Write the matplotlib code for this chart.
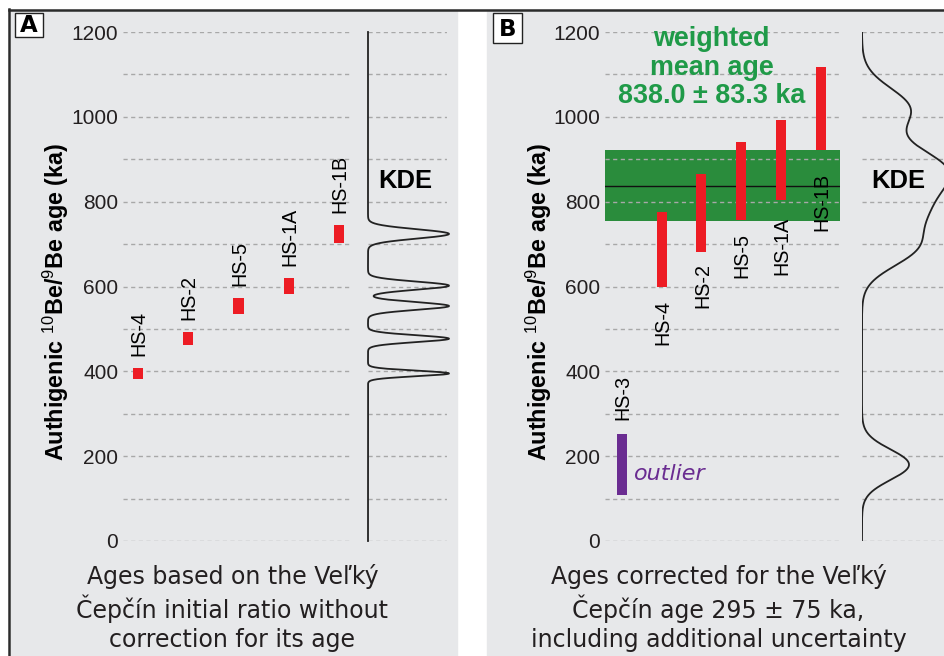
import numpy as np
import matplotlib.pyplot as plt
from matplotlib.patches import Rectangle
from matplotlib.lines import Line2D

plt.rcParams["font.family"] = ["Liberation Sans", "DejaVu Sans"]
plt.rcParams["mathtext.fontset"] = "custom"
plt.rcParams["mathtext.rm"] = "Liberation Sans"

# panel A - ages from the Velky Cepcin initial ratio (ka), bars are +/- err
samples_a = ["HS-4", "HS-2", "HS-5", "HS-1A", "HS-1B"]
age_a = [395, 477, 554, 602, 724]
err_a = [13, 16, 18, 19, 22]

# panel B - corrected ages (ka)
samples_b = ["HS-3", "HS-4", "HS-2", "HS-5", "HS-1A", "HS-1B"]
age_b = [180, 688, 773, 849, 898, 1019]
err_b = [72, 88, 92, 92, 94, 98]
outliers = ["HS-3"]

mean_age = 838.0
mean_err = 83.3

yticks = [0, 200, 400, 600, 800, 1000, 1200]

W, H = 945, 656
RED = "#ed1c24"
PURPLE = "#6a2c91"
GREEN_BAND = "#2a8c3c"
GREEN_TXT = "#1f9a48"
BG = "#e7e8ea"
GRID = "#a8a8a8"

# gap (px) between bar end and its sample label in panel B
gap_b = [14, 13, 11, 13, 17, 23]

fig = plt.figure(figsize=(W / 100, H / 100), dpi=100)
fig.patch.set_facecolor("white")


def px_axes(x0, x1, y0, y1):
    ax = fig.add_axes([x0 / W, 1 - y1 / H, (x1 - x0) / W, (y1 - y0) / H])
    ax.patch.set_alpha(0)
    for s in ax.spines.values():
        s.set_visible(False)
    ax.set_ylim(0, 1200)
    ax.set_yticks(yticks)
    ax.set_yticks(range(0, 1201, 100), minor=True)
    ax.tick_params(axis="both", which="both", length=0)
    ax.set_xticks([])
    ax.grid(axis="y", which="both", color=GRID, lw=1, ls=(0, (3, 2.5)))
    ax.set_axisbelow(True)
    return ax


def kde(values, errs, y):
    # sum of gaussians, bandwidth half of each uncertainty
    out = np.zeros_like(y)
    for v, e in zip(values, errs):
        out += np.exp(-0.5 * ((y - v) / (e / 2)) ** 2)
    return out


def fig_px(x, y):
    return x / W, 1 - y / H


# panel backgrounds and outer frame
for x0, x1 in [(11, 457), (487, 945)]:
    fig.patches.append(Rectangle(fig_px(x0, H), (x1 - x0) / W, (H - 11) / H,
                                 transform=fig.transFigure, color=BG, zorder=-5))
fig.add_artist(Line2D([9 / W, 1], [1 - 9.5 / H] * 2, transform=fig.transFigure,
                      color="#2b2b2b", lw=1.8))
fig.add_artist(Line2D([9.5 / W] * 2, [0, 1 - 9 / H], transform=fig.transFigure,
                      color="#2b2b2b", lw=1.8))

# panel letters
for letter, (x0, x1, y0, y1) in [("A", (15, 43, 13, 37)), ("B", (493, 522, 13, 43))]:
    fig.patches.append(Rectangle(fig_px(x0, y1), (x1 - x0) / W, (y1 - y0) / H,
                                 transform=fig.transFigure, facecolor="white",
                                 edgecolor="#222222", lw=1))
    fig.text(*fig_px((x0 + x1) / 2, (y0 + y1) / 2 + 1), letter, ha="center",
             va="center", fontsize=16.5, fontweight="heavy", family="DejaVu Sans")

ylab = r"Authigenic $^{\mathrm{10}}$Be/$^{\mathrm{9}}$Be age (ka)"
yy = np.linspace(0, 1200, 2401)

# ---------------- panel A ----------------
axa = px_axes(123, 352, 32, 541)
axa.set_xlim(-0.2985, 4.259)
axa.set_yticklabels([str(t) for t in yticks], fontsize=15, color="#231f20")
axa.tick_params(axis="y", pad=3.4)
xa = np.arange(len(samples_a))
lo_a = np.array(age_a) - np.array(err_a)
axa.bar(xa, 2 * np.array(err_a), bottom=lo_a, width=0.2, color=RED, zorder=3)
for x, name, a, e in zip(xa, samples_a, age_a, err_a):
    axa.annotate(name, (x, a + e), xytext=(1, 12), textcoords="offset pixels",
                 rotation=90, ha="center", va="bottom", fontsize=14.2)

ka = px_axes(368, 447, 32, 541)
ka.set_yticklabels([])
ka.set_xlim(0, 79 / 81)
ka.plot(kde(age_a, err_a, yy), yy, color="#222222", lw=1.3, clip_on=False)
ka.text(0.46, 848, "KDE", ha="center", va="center", fontsize=18.4,
        fontweight="bold")

fig.text(*fig_px(56, 302), ylab, rotation=90, ha="center", va="center",
         fontsize=16.8, fontweight="bold")
fig.text(*fig_px(232.5, 608), "Ages based on the Veľký\nČepčín initial ratio without\ncorrection for its age",
         ha="center", va="center", fontsize=17, family="DejaVu Sans",
         linespacing=1.26, color="#231f20")

# ---------------- panel B ----------------
axb = px_axes(605, 840, 32, 541)
axb.set_xlim(-0.428, 5.491)
axb.set_yticklabels([str(t) for t in yticks], fontsize=15, color="#231f20")
axb.tick_params(axis="y", pad=3.4)
axb.axhspan(mean_age - mean_err, mean_age + mean_err, color=GREEN_BAND, zorder=0.2, lw=0)
axb.axhline(mean_age, color="#111111", lw=1, zorder=0.8)
xb = np.arange(len(samples_b))
colors_b = [PURPLE if s in outliers else RED for s in samples_b]
lo_b = np.array(age_b) - np.array(err_b)
axb.bar(xb, 2 * np.array(err_b), bottom=lo_b, width=0.252, color=colors_b, zorder=3)
for x, name, a, e, g in zip(xb, samples_b, age_b, err_b, gap_b):
    if name in outliers:
        axb.annotate(name, (x, a + e), xytext=(1, g), textcoords="offset pixels",
                     rotation=90, ha="center", va="bottom", fontsize=14.2)
    else:
        axb.annotate(name, (x, a - e), xytext=(1, -g), textcoords="offset pixels",
                     rotation=90, ha="center", va="top", fontsize=14.2)
axb.text(0.3, 158, "outlier", color=PURPLE, style="italic", fontsize=16,
         family="DejaVu Sans", ha="left", va="center")
axb.text(2.26, 1116, "weighted\nmean age\n838.0 ± 83.3 ka", color=GREEN_TXT,
         fontsize=19.4, fontweight="bold", ha="center", va="center",
         linespacing=1.12, clip_on=False)

kb = px_axes(862, 960, 32, 541)
kb.set_yticklabels([])
kb.set_xlim(0, 98 / 47)
kb.plot(kde(age_b, err_b, yy), yy, color="#222222", lw=1.3)
kb.text(0.77, 848, "KDE", ha="center", va="center", fontsize=18.4,
        fontweight="bold")

fig.text(*fig_px(539, 302), ylab, rotation=90, ha="center", va="center",
         fontsize=16.8, fontweight="bold")
fig.text(*fig_px(718.5, 608), "Ages corrected for the Veľký\nČepčín age 295 ± 75 ka,\nincluding additional uncertainty",
         ha="center", va="center", fontsize=17, family="DejaVu Sans",
         linespacing=1.26, color="#231f20")

fig.savefig("out.png", dpi=100)
